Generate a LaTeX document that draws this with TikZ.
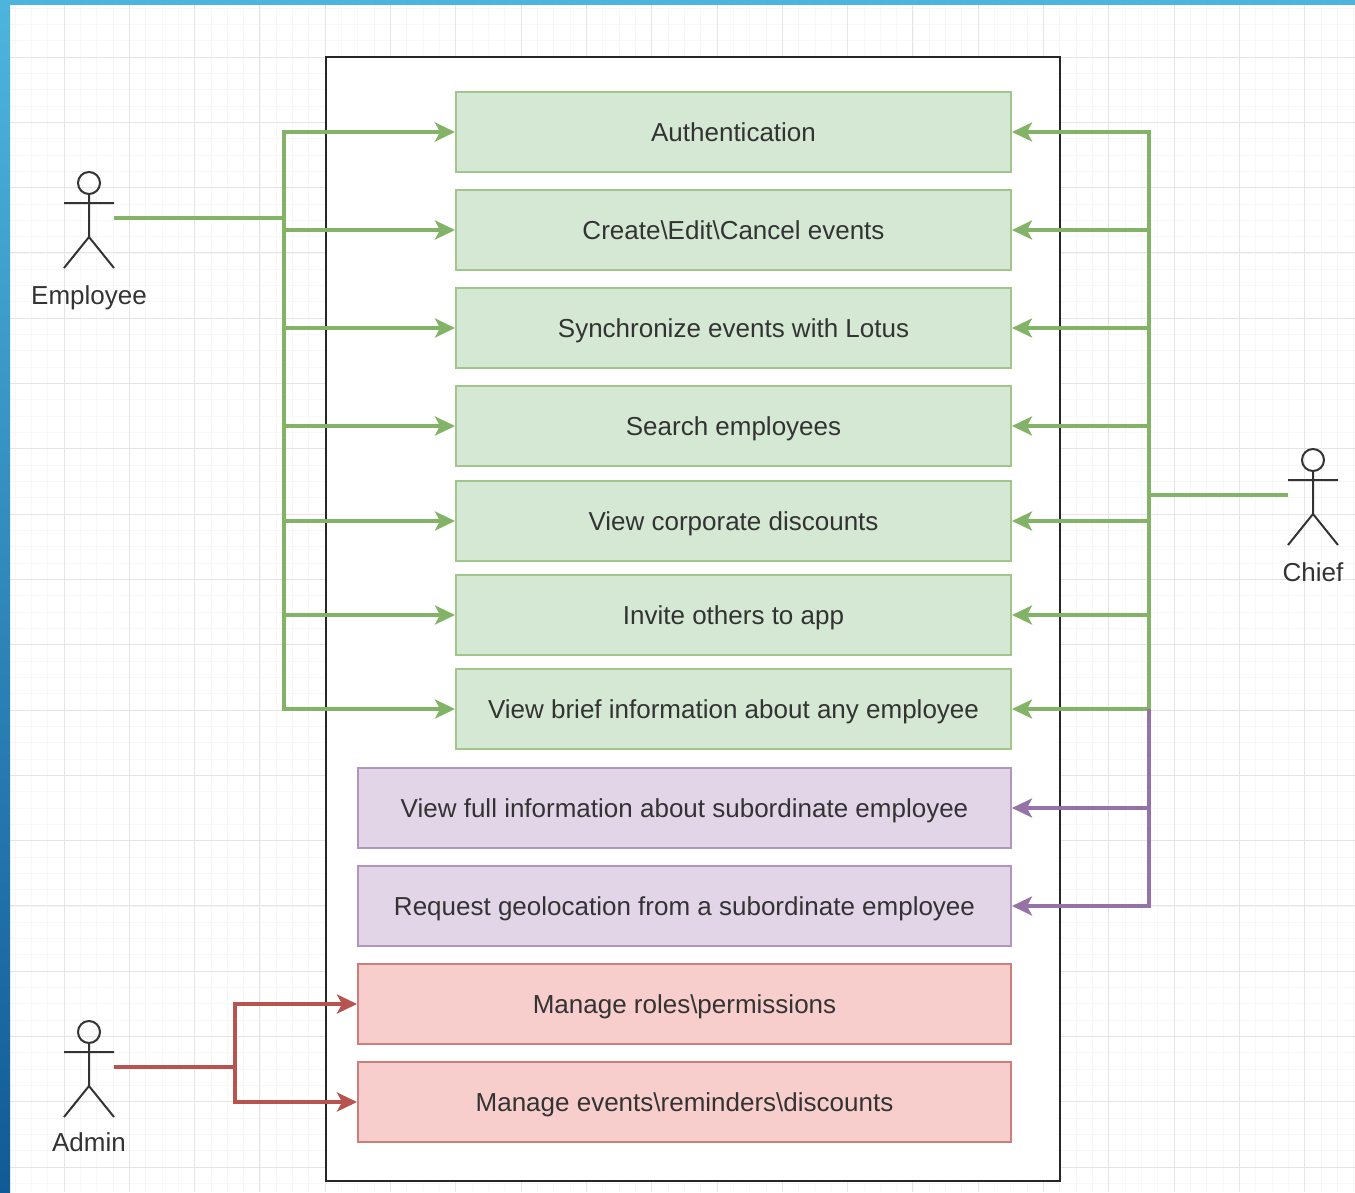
\documentclass[tikz,border=0pt]{standalone}
\usepackage{fontspec}
\setmainfont{Liberation Sans}
\usetikzlibrary{arrows.meta}

\definecolor{gfill}{HTML}{D5E8D4}
\definecolor{gline}{HTML}{82B366}
\definecolor{pfill}{HTML}{E1D5E7}
\definecolor{pline}{HTML}{9673A6}
\definecolor{rfill}{HTML}{F8CECC}
\definecolor{rline}{HTML}{B85450}
\definecolor{txt}{HTML}{333333}
\definecolor{bluetop}{HTML}{4DB5DD}
\definecolor{bluebot}{HTML}{115A97}

\begin{document}
\begin{tikzpicture}[
        x=1pt, y=-1pt, % пиксели
        uc/.style={draw, line width=2pt, minimum height=80, text=txt,
            font=\fontsize{26}{30}\selectfont, inner sep=0pt,
            text height=18.6pt, text depth=0pt}, % Стиль прецедентов
        ucg/.style={uc, fill=gfill, draw=gline!75, minimum width=555},
        ucp/.style={uc, fill=pfill, draw=pline!75, minimum width=653},
        ucr/.style={uc, fill=rfill, draw=rline!75, minimum width=653},
        link/.style={line width=3.5pt, -{Stealth[length=20pt, width=19pt, inset=5pt]}},
        label/.style={text=txt, font=\fontsize{26}{30}\selectfont, inner sep=0pt,
            text height=18.6pt, text depth=0pt},
        actor/.pic={
            \draw[line width=2pt, black!80] (0,-35) circle[radius=11]
                (-25,-15) -- (25,-15) (0,-24) -- (0,19)
                (-25,50) -- (0,19) -- (25,50);
            \coordinate (-l) at (-25,0);
            \coordinate (-r) at (25,0);
        },
    ]

    \useasboundingbox (0,0) rectangle (1355,1192);
    \fill[white] (0,0) rectangle (1355,1192);

    % сетка
    \foreach \k in {-3,...,83} {
        \draw[black!3, line width=0.8pt] (64+16.325*\k,0) -- (64+16.325*\k,1192);
    }
    \foreach \k in {-3,...,73} {
        \draw[black!3, line width=0.8pt] (0,57+16.325*\k) -- (1355,57+16.325*\k);
    }
    \foreach \k in {-1,...,20} {
        \draw[black!10, line width=1pt] (64+65.3*\k,0) -- (64+65.3*\k,1192);
        \draw[black!10, line width=1pt] (0,57+65.3*\k) -- (1355,57+65.3*\k);
    }

    % рамка
    \shade[top color=bluetop, bottom color=bluebot] (0,0) rectangle (10,1192);
    \fill[bluetop] (0,0) rectangle (1355,5);

    % система
    \draw[line width=2pt, fill=white, draw=black!85] (326,57) rectangle (1060,1181);

    \node[ucg] (auth) at (733.5,132) {Authentication};
    \node[ucg] (create) at (733.5,230) {Create\textbackslash Edit\textbackslash Cancel events};
    \node[ucg] (sync) at (733.5,328) {Synchronize events with Lotus};
    \node[ucg] (search) at (733.5,426) {Search employees};
    \node[ucg] (disc) at (733.5,521) {View corporate discounts};
    \node[ucg] (invite) at (733.5,615) {Invite others to app};
    \node[ucg] (brief) at (733.5,709) {View brief information about any employee};
    \node[ucp] (full) at (684.5,808) {View full information about subordinate employee};
    \node[ucp] (geo) at (684.5,906) {Request geolocation from a subordinate employee};
    \node[ucr] (roles) at (684.5,1004) {Manage roles\textbackslash permissions};
    \node[ucr] (events) at (684.5,1102) {Manage events\textbackslash reminders\textbackslash discounts};

    % актеры
    \pic (emp) at (89,218) {actor};
    \node[label] (emplabel) at (89,295) {Employee};
    \pic (chief) at (1313,495) {actor};
    \node[label] (chieflabel) at (1313,572) {Chief};
    \pic (adm) at (89,1067) {actor};
    \node[label] (admlabel) at (89,1142) {Admin};

    \coordinate (ej) at (284,218);
    \coordinate (cj) at (1149,495);
    \coordinate (pj) at (cj |- brief.east);
    \coordinate (aj) at (235,1067);

    \draw[gline, line width=3.5pt] (emp-r) -- (ej);
    \draw[gline, line width=3.5pt] (chief-l) -- (cj);
    \draw[rline, line width=3.5pt] (adm-r) -- (aj);

    \foreach \n in {auth,create,sync,search,disc,invite,brief} {
        \draw[link, gline] (ej) |- (\n.west);
        \draw[link, gline] (cj) |- (\n.east);
    }
    \foreach \n in {full,geo} {
        \draw[link, pline] (pj) |- (\n.east);
    }
    \foreach \n in {roles,events} {
        \draw[link, rline] (aj) |- (\n.west);
    }
\end{tikzpicture}
\end{document}
